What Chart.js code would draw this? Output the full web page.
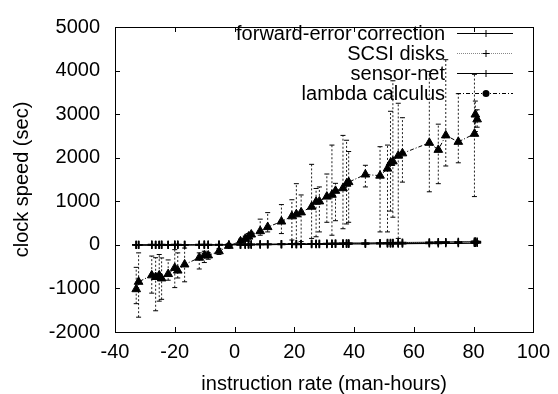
<!DOCTYPE html>
<html><head><meta charset="utf-8">
<script src="https://cdn.jsdelivr.net/npm/chart.js@4/dist/chart.umd.min.js"></script>
<style>html,body{margin:0;padding:0;background:#fff}</style>
</head><body>
<canvas id="c" width="558" height="394"></canvas>
<script>
const seriesNames = ["forward-error correction", "SCSI disks", "sensor-net", "lambda calculus"];
const xTickValues = [-40, -20, 0, 20, 40, 60, 80, 100];
const yTickValues = [-2000, -1000, 0, 1000, 2000, 3000, 4000, 5000];
const xValues = [-32.9,-32.1,-27.7,-26.4,-25.2,-24.4,-22.2,-20.0,-19.0,-16.7,-11.8,-10.1,-8.8,-5.2,-1.9,2.0,3.6,4.7,5.6,8.6,11.1,15.7,19.2,20.7,22.3,25.8,27.3,28.4,30.9,32.6,33.8,36.3,37.5,38.2,43.8,48.7,51.2,52.2,53.0,54.8,56.2,65.2,68.2,70.7,74.9,80.3,80.6,81.2];
const fecValues = [0,2,1,0,3,1,0,2,1,0,3,2,1,0,2,5,4,6,5,8,7,10,12,11,13,12,15,14,16,18,17,19,20,21,22,25,26,24,27,28,27,32,33,35,36,40,42,41];
const scsiValues = [5,4,6,5,4,6,5,7,6,5,8,7,6,7,8,10,11,10,12,14,15,18,20,19,22,24,23,25,27,28,30,29,31,33,32,38,40,41,42,43,44,50,52,54,55,60,62,61];
const sensorValues = [-5,-3,-4,-2,-5,-3,-4,-2,-3,-1,-2,0,-1,1,2,5,6,7,8,10,12,15,18,20,21,24,26,27,30,32,34,35,37,38,40,45,48,50,51,52,54,60,63,66,70,75,80,78];
const lambdaValues = [-1018,-848,-700,-738,-700,-770,-670,-530,-590,-450,-295,-243,-243,-147,-22,80,140,190,237,315,408,535,655,702,745,875,990,997,1108,1150,1240,1300,1404,1440,1615,1588,1750,1880,1915,2047,2100,2342,2180,2512,2364,2548,2991,2880];
const lambdaLow = [-1350,-1660,-1108,-1513,-1292,-1250,-811,-981,-760,-848,-554,-406,-330,-220,-70,30,90,130,190,221,297,259,111,38,75,148,186,297,518,221,554,370,480,518,1329,297,297,775,635,148,1440,1218,1404,1810,1883,1108,2600,2700];
const lambdaHigh = [-516,-184,-257,-295,-221,-300,-346,-110,-184,-73,-184,-147,-180,-90,30,130,200,260,290,590,740,924,1035,1404,1145,1848,1294,1329,1626,2290,1412,2512,2401,2142,1826,2253,2290,3066,3766,3250,2918,3981,2770,4250,3470,3914,3300,3100];

const FONT = "'Liberation Sans', Arial, Helvetica, sans-serif";
const pts = vals => xValues.map((x, i) => ({x, y: vals[i]}));
const errPts = [];
xValues.forEach((x, i) => { errPts.push({x, y: lambdaLow[i]}, {x, y: lambdaHigh[i]}, {x, y: null}); });

const datasets = [
  {label: seriesNames[0], data: pts(fecValues), showLine: true, borderColor: '#000', borderWidth: 1.2,
   pointStyle: 'cross', pointRadius: 4, pointBorderColor: '#000', pointBorderWidth: 1.5, legendDash: [], legendColor: '#000', legendPoint: 'cross'},
  {label: seriesNames[1], data: pts(scsiValues), showLine: true, borderColor: '#888', borderWidth: 1.2, borderDash: [1, 1],
   pointStyle: 'cross', pointRadius: 4, pointBorderColor: '#000', pointBorderWidth: 1.5, legendDash: [1, 1], legendColor: '#888', legendPoint: 'cross'},
  {label: seriesNames[2], data: pts(sensorValues), showLine: true, borderColor: '#000', borderWidth: 1.2,
   pointStyle: 'cross', pointRadius: 4, pointBorderColor: '#000', pointBorderWidth: 1.5, legendDash: [], legendColor: '#000', legendPoint: 'cross'},
  {label: seriesNames[3], data: pts(lambdaValues), showLine: true, borderColor: '#000', borderWidth: 1, borderDash: [4, 2, 1, 2],
   pointStyle: 'triangle', pointRadius: 5, pointBackgroundColor: '#000', pointBorderColor: '#000', pointBorderWidth: 1,
   legendDash: [4, 2, 1, 2], legendColor: '#000', legendPoint: 'circle'},
  {label: 'lambda-err', data: errPts, showLine: true, spanGaps: false, borderColor: '#222', borderWidth: 1, borderDash: [2, 2],
   pointStyle: 'line', pointRadius: 2.5, pointBorderColor: '#000', pointBorderWidth: 1, noLegend: true}
];

const framePlugin = {
  id: 'frame',
  afterDatasetsDraw(chart) {
    const {ctx, chartArea: {left, right, top, bottom}, scales: {x, y}} = chart;
    ctx.save();
    ctx.strokeStyle = '#000'; ctx.lineWidth = 1; ctx.setLineDash([]);
    ctx.strokeRect(Math.round(left) + 0.5, Math.round(top) + 0.5, Math.round(right - left), Math.round(bottom - top));
    const tl = 5;
    ctx.beginPath();
    x.ticks.forEach(t => {
      const px = Math.round(x.getPixelForValue(t.value)) + 0.5;
      ctx.moveTo(px, bottom); ctx.lineTo(px, bottom - tl);
      ctx.moveTo(px, top); ctx.lineTo(px, top + tl);
    });
    y.ticks.forEach(t => {
      const py = Math.round(y.getPixelForValue(t.value)) + 0.5;
      ctx.moveTo(left, py); ctx.lineTo(left + tl, py);
      ctx.moveTo(right, py); ctx.lineTo(right - tl, py);
    });
    ctx.stroke();
    // key
    const rows = [33, 53, 73, 93];
    const textRight = 445, l0 = 457, l1 = 513, mx = 486;
    ctx.font = '20px ' + FONT;
    ctx.textAlign = 'right'; ctx.textBaseline = 'middle';
    chart.data.datasets.filter(d => !d.noLegend).forEach((d, i) => {
      const ry = rows[i];
      ctx.fillStyle = '#000';
      ctx.fillText(d.label, textRight, ry + 1);
      ctx.strokeStyle = d.legendColor; ctx.setLineDash(d.legendDash);
      ctx.beginPath(); ctx.moveTo(l0, ry + 0.5); ctx.lineTo(l1, ry + 0.5); ctx.stroke();
      ctx.setLineDash([]);
      ctx.strokeStyle = '#000'; ctx.fillStyle = '#000';
      if (d.legendPoint === 'circle') { ctx.beginPath(); ctx.arc(mx, ry + 0.5, 3.5, 0, Math.PI * 2); ctx.fill(); }
      else Chart.helpers.drawPoint(ctx, {pointStyle: d.legendPoint, radius: 3.5, borderWidth: 1}, mx, ry + 0.5);
    });
    ctx.restore();
  }
};

new Chart(document.getElementById('c'), {
  type: 'scatter',
  data: {datasets},
  options: {
    responsive: false, animation: false, devicePixelRatio: 1,
    layout: {padding: {top: 16, right: 19, left: 0, bottom: 0}},
    plugins: {legend: {display: false}, tooltip: {enabled: false}},
    scales: {
      x: {
        type: 'linear', min: -40, max: 100,
        afterBuildTicks: s => { s.ticks = xTickValues.map(v => ({value: v})); },
        afterFit: s => { s.height = 62; },
        grid: {display: false, drawTicks: false}, border: {display: false},
        ticks: {color: '#000', font: {family: FONT, size: 20}, padding: 8, maxRotation: 0, autoSkip: false, callback: v => String(v)},
        title: {display: true, text: 'instruction rate (man-hours)', color: '#000', font: {family: FONT, size: 20, lineHeight: 1}, padding: {top: 0, bottom: 0}}
      },
      y: {
        type: 'linear', min: -2000, max: 5000,
        afterBuildTicks: s => { s.ticks = yTickValues.map(v => ({value: v})); },
        afterFit: s => { s.width = 115; },
        grid: {display: false, drawTicks: false}, border: {display: false},
        ticks: {color: '#000', font: {family: FONT, size: 20}, padding: 15, autoSkip: false, callback: v => String(v)},
        title: {display: true, text: 'clock speed (sec)', color: '#000', font: {family: FONT, size: 20, lineHeight: 1}, padding: {top: 12, bottom: 0}}
      }
    }
  },
  plugins: [framePlugin]
});
</script>
</body></html>
